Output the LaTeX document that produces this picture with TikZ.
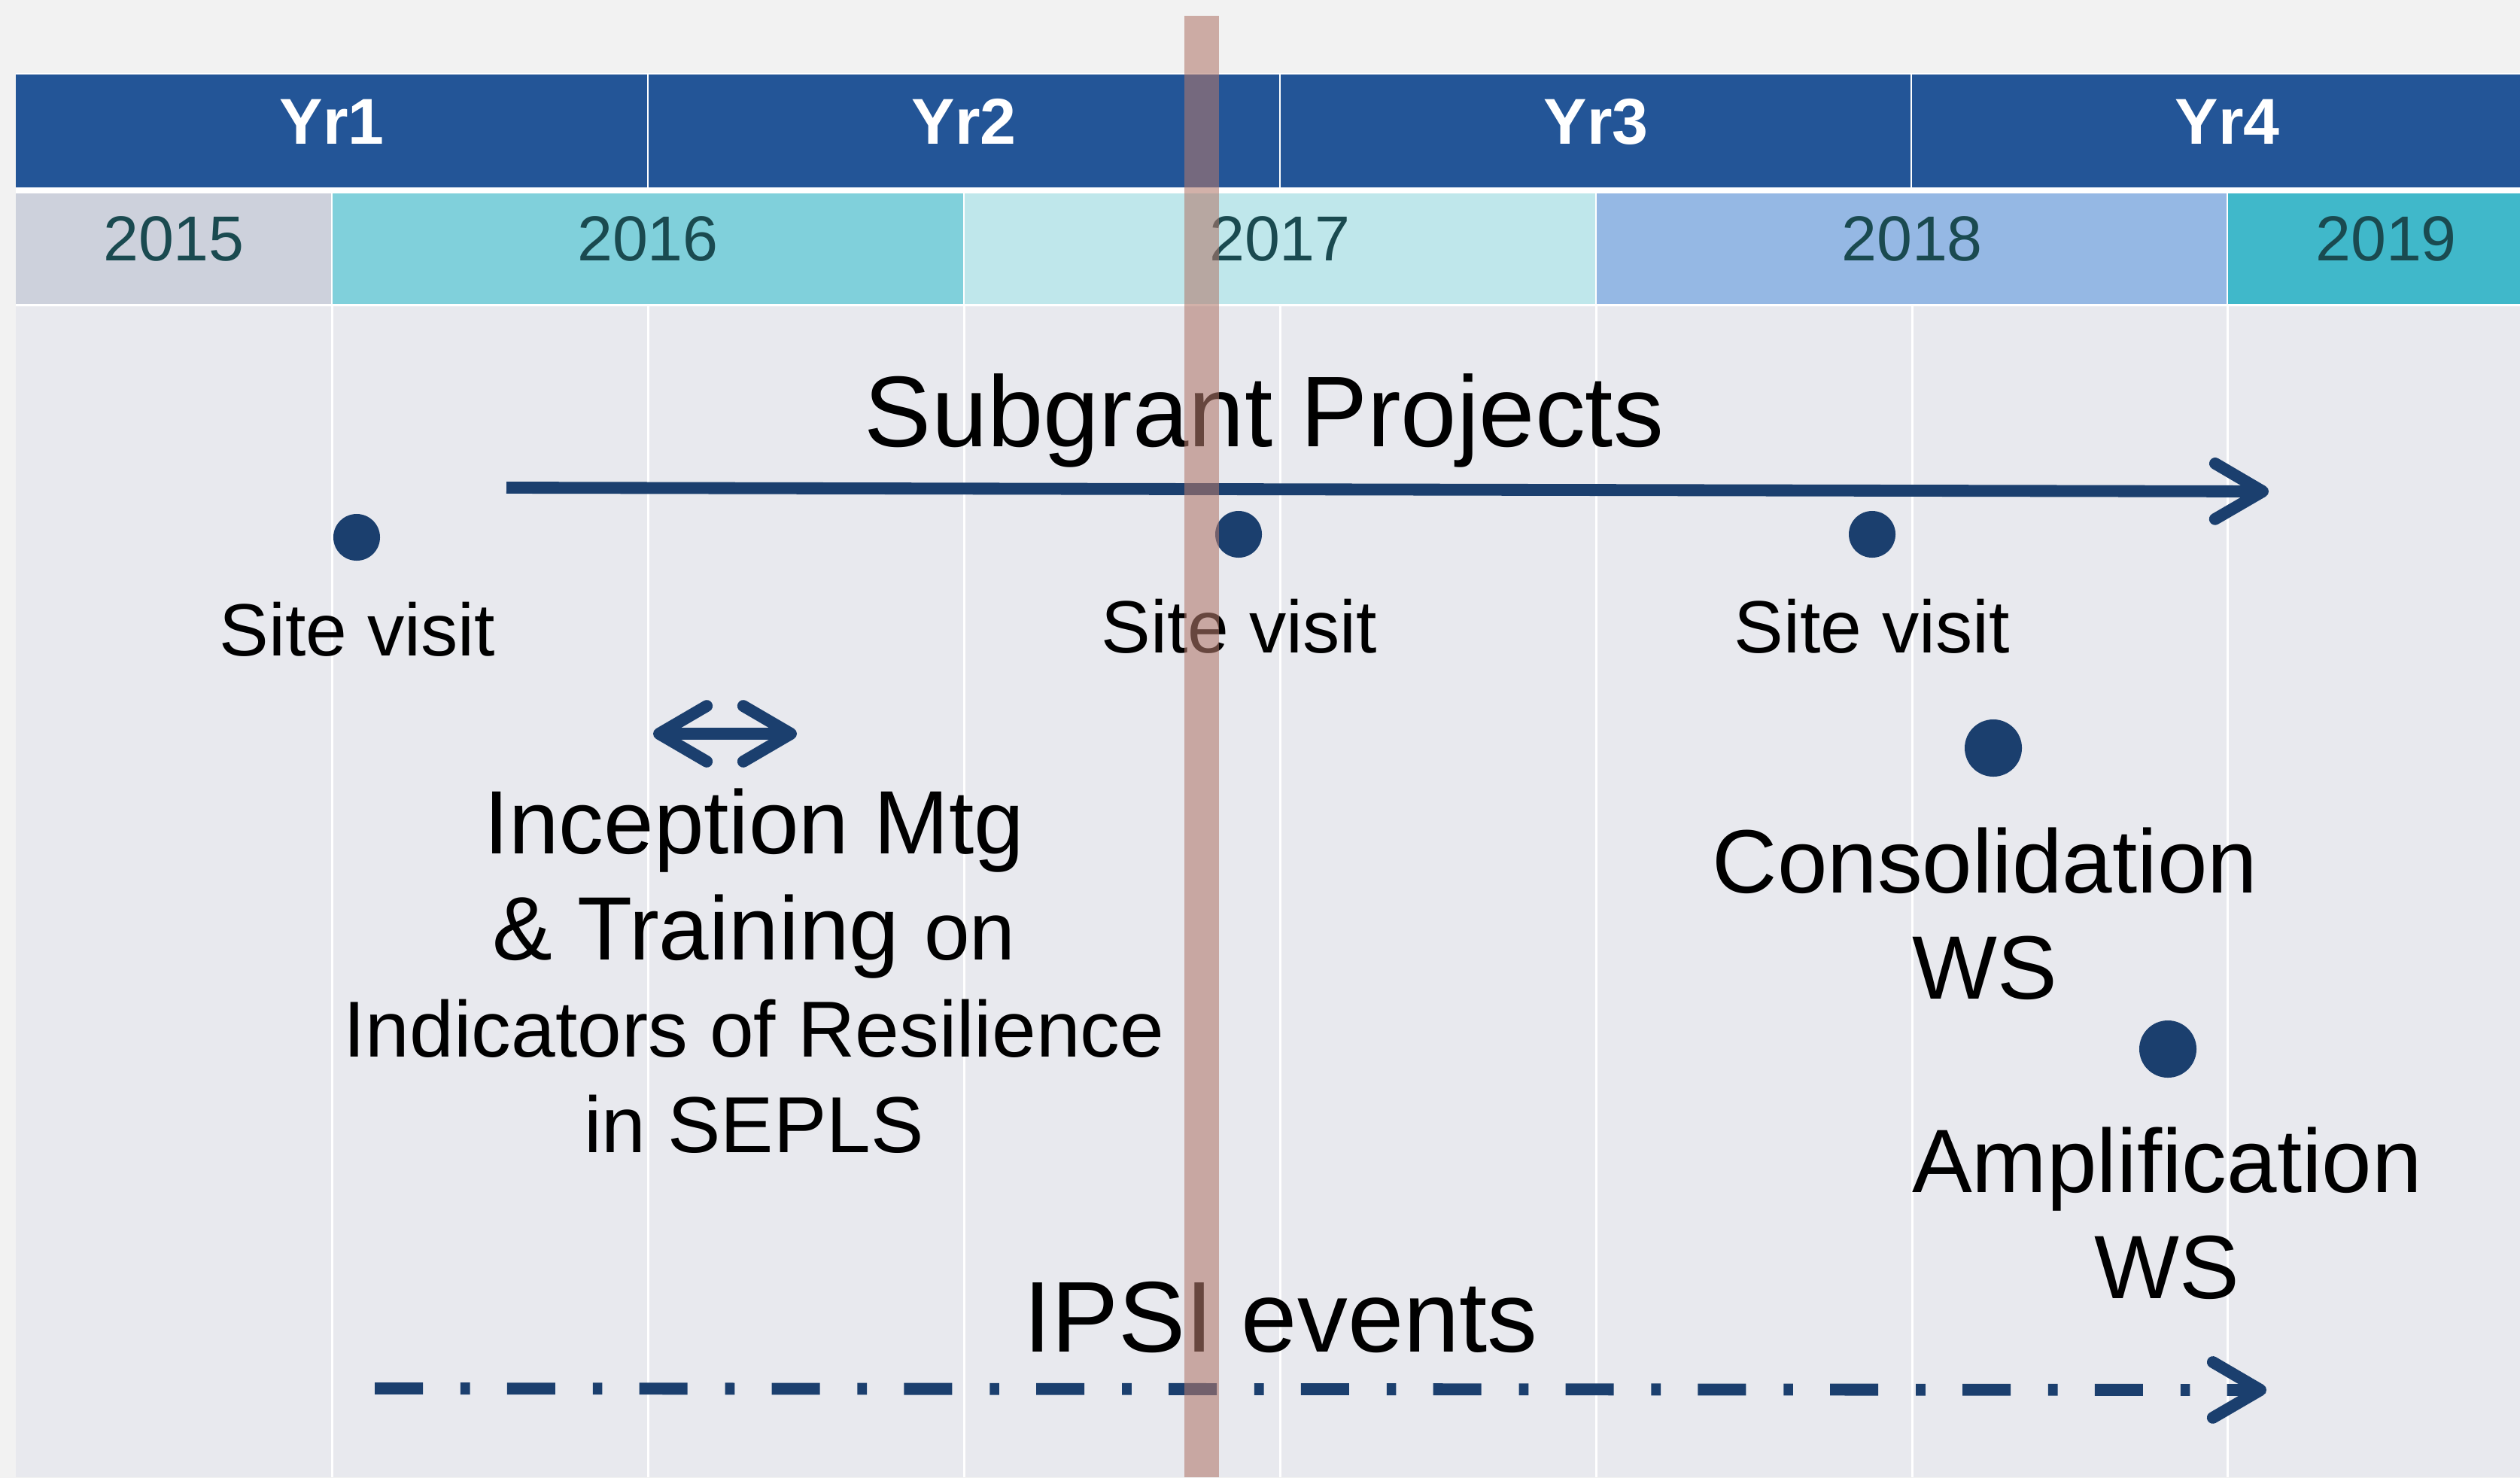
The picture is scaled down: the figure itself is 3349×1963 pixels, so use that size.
\documentclass[tikz,border=0pt]{standalone}
\usepackage{fontspec}
\setmainfont{Liberation Sans}
\usepackage{xcolor}
\usetikzlibrary{arrows.meta, positioning}

\definecolor{hdrblue}{HTML}{235597}
\definecolor{navy}{HTML}{1B3F6E}
\definecolor{gridbg}{HTML}{E8E9EE}
\definecolor{yrtext}{HTML}{1A4A50}
\definecolor{c2015}{HTML}{CDD1DC}
\definecolor{c2016}{HTML}{80D0DB}
\definecolor{c2017}{HTML}{BFE7EB}
\definecolor{c2018}{HTML}{95B8E4}
\definecolor{c2019}{HTML}{40B8CA}
\definecolor{bandred}{RGB}{178,121,108}

\begin{document}
\begin{tikzpicture}[
  x=0.01cm, y=-0.01cm,
  every node/.style={inner sep=0pt, outer sep=0pt},
  yrlabel/.style={anchor=base, text=white, font=\fontsize{24.5}{29}\selectfont\bfseries},
  calyear/.style={anchor=base, text=yrtext, font=\fontsize{24}{29}\selectfont},
  visitdot/.style={circle, fill=navy, minimum size=0.62cm},
  wsdot/.style={circle, fill=navy, minimum size=0.76cm},
  sitelabel/.style={anchor=base, font=\fontsize{28}{34}\selectfont},
  wslabel/.style={anchor=base, align=center, font=\fontsize{34}{40}\selectfont},
  headline/.style={anchor=base, font=\fontsize{38}{46}\selectfont},
  gridline/.style={draw=white, line width=0.85pt},
  arr/.style={-{Straight Barb[length=18pt, width=21pt, round]}, line width=4.5pt, draw=navy},
  darr/.style={{Straight Barb[length=18pt, width=21pt, round]}-{Straight Barb[length=18pt, width=21pt, round]},
    line width=4.5pt, draw=navy},
  dasharr/.style={arr, dash pattern=on 18.2pt off 14.2pt on 3.6pt off 14pt}
]
\useasboundingbox (0,0) rectangle (3349,1963);

% page and table background
\shade[left color=black!5, middle color=white, right color=black!5] (0,0) rectangle (3349,1963);
\fill[white] (21,97) rectangle (3349,407);
\fill[gridbg] (21,407) rectangle (3349,1963);
\foreach \gx in {441,861,1281,1701,2121,2541,2960}
  \draw[gridline] (\gx,407) -- (\gx,1963);

% project years
\fill[hdrblue] (21,99) rectangle (860,249);
\fill[hdrblue] (862,99) rectangle (1700,249);
\fill[hdrblue] (1702,99) rectangle (2539,249);
\fill[hdrblue] (2541,99) rectangle (3349,249);
\node[yrlabel] (yr1) at (441,191) {Yr1};
\node[yrlabel] (yr2) at (1281,191) {Yr2};
\node[yrlabel] (yr3) at (2121,191) {Yr3};
\node[yrlabel] (yr4) at (2960,191) {Yr4};

% calendar years
\fill[c2015] (21,257) rectangle (440,404);
\fill[c2016] (442,257) rectangle (1280,404);
\fill[c2017] (1282,257) rectangle (2120,404);
\fill[c2018] (2122,257) rectangle (2959,404);
\fill[c2019] (2961,257) rectangle (3349,404);
\node[calyear] (y2015) at (231,346) {2015};
\node[calyear] (y2016) at (861,346) {2016};
\node[calyear] (y2017) at (1701,346) {2017};
\node[calyear] (y2018) at (2541,346) {2018};
\node[calyear] (y2019) at (3171,346) {2019};

% subgrant projects
\node[headline] (subgrant) at (1680,593) {Subgrant Projects};
\coordinate (sgstart) at (673,648);
\coordinate (sgend) at (3015,653);
\draw[arr] (sgstart) -- (sgend);

% site visits
\node[visitdot] (sv1) at (474,714) {};
\node[sitelabel] (sv1lbl) at (475,871) {Site visit};
\node[visitdot] (sv2) at (1646,710) {};
\node[sitelabel] (sv2lbl) at (1647,867) {Site visit};
\node[visitdot] (sv3) at (2488,710) {};
\node[sitelabel] (sv3lbl) at (2488,867) {Site visit};

% inception meeting
\coordinate (incl) at (868,975);
\coordinate (incr) at (1059,975);
\draw[darr] (incl) -- (incr);
\node[wslabel] (incep) at (1002,1531) {Inception Mtg\\
  \& Training {\fontsize{31}{40}\selectfont on}\\[-3.3pt]
  {\fontsize{30}{36}\selectfont Indicators of Resilience}\\[-3.9pt]
  {\fontsize{30}{36}\selectfont in SEPLS}};

% workshops
\node[wsdot] (cons) at (2649,994) {};
\node[wslabel] (conslbl) at (2638,1327) {Consolidation\\WS};
\node[wsdot] (ampl) at (2881,1394) {};
\node[wslabel] (ampllbl) at (2880,1725) {Amplification\\WS};

% IPSI events
\node[headline] (ipsi) at (1702,1796) {IPSI events};
\coordinate (ipstart) at (498,1845);
\coordinate (ipend) at (3012,1847);
\draw[dasharr] (ipstart) -- (ipend);

% today marker
\fill[bandred, opacity=0.58] (1574,21) rectangle (1620,1963);

\end{tikzpicture}
\end{document}
